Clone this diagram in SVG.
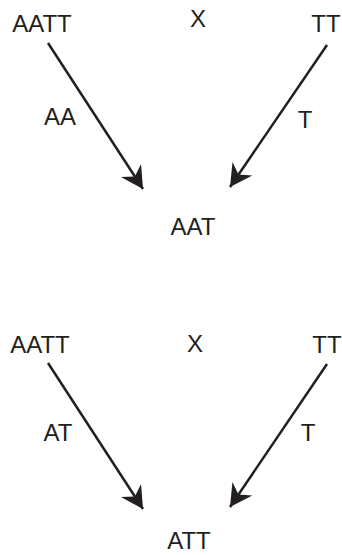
<svg xmlns="http://www.w3.org/2000/svg" width="342" height="555" viewBox="0 0 342 555">
<style>
text{font-family:"Liberation Sans",Arial,sans-serif;font-size:24px;fill:#231f20;text-anchor:middle}
.c line{stroke:#231f20;stroke-width:2.5;fill:none}
</style>
<defs>
<marker id="ah" markerUnits="userSpaceOnUse" viewBox="-24 -13 26 26" refX="0" refY="0" markerWidth="26" markerHeight="26" orient="auto">
<path d="M0,0 L-22,-12 L-15,0 L-22,12 Z" fill="#231f20"/>
</marker>
</defs>
<rect width="342" height="555" fill="#fff"/>
<g id="cross1">
<g id="p1a"><text x="42" y="32">AATT</text></g>
<g id="x1"><text x="198" y="27">X</text></g>
<g id="p1b"><text x="326" y="32">TT</text></g>
<g id="g1a"><text x="60" y="125">AA</text></g>
<g id="g1b"><text x="305" y="128">T</text></g>
<g id="o1"><text x="193" y="235">AAT</text></g>
</g>
<g id="cross2">
<g id="p2a"><text x="40" y="353">AATT</text></g>
<g id="x2"><text x="195" y="352">X</text></g>
<g id="p2b"><text x="327" y="353">TT</text></g>
<g id="g2a"><text x="58" y="441">AT</text></g>
<g id="g2b"><text x="308" y="441">T</text></g>
<g id="o2"><text x="189" y="549">ATT</text></g>
</g>
<g id="connectors" class="c">
<line x1="48" y1="43" x2="143" y2="189" marker-end="url(#ah)"/>
<line x1="327" y1="45" x2="230" y2="187" marker-end="url(#ah)"/>
<line x1="48" y1="363" x2="143" y2="509" marker-end="url(#ah)"/>
<line x1="327" y1="364" x2="230" y2="507" marker-end="url(#ah)"/>
</g>
</svg>
